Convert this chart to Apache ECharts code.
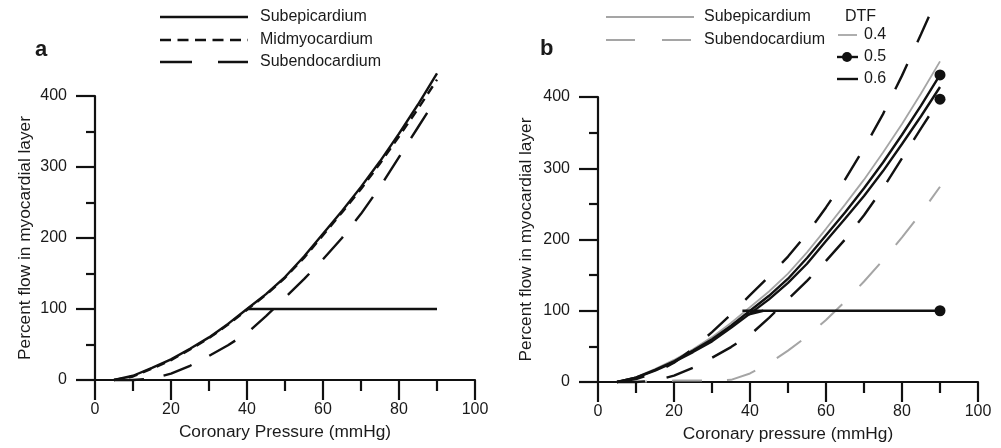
<!DOCTYPE html>
<html><head><meta charset="utf-8">
<script src="https://cdn.jsdelivr.net/npm/echarts@6/dist/echarts.min.js"></script>
<style>html,body{margin:0;padding:0;background:#fff}#c{width:1001px;height:448px}</style>
</head><body><div id="c"></div>
<script>
// ---- data ----
const pressure = [5,10,15,20,25,30,35,40,45,50,55,60,65,70,75,80,85,90];
// panel a
const aSubepi  = [0,6,17,29,44,60,79,100,121,145,174,206,238,272,308,347,388,432];
const aMidmyo  = [0,5,16,28,43,59,78,99,120,144,172,204,236,269,305,343,382,423];
const aSubendo = [0,0,2,9,20,34,49,66,90,116,142,170,200,234,272,314,356,398];
const aFlatX = [40,90];
const aFlatY = [100,100];
// panel b
const bEpi04  = [0,7,18,31,46,63,83,105,127,152,182,215,249,284,322,362,405,450];
const bEpi05  = [0,6,17,29,44,60,79,100,121,145,174,206,238,272,308,347,388,431];
const bEpi06  = [0,6,16,28,42,57,76,96,116,139,166,198,229,261,296,334,373,414];
const bEndo04 = [0,0,1,2,2,2,3,12,26,44,64,87,113,141,171,203,237,274];
const bEndo05 = [0,0,2,9,20,34,49,66,90,116,142,170,200,234,272,314,356,397];
const bEndo06 = [0,4,13,27,47,70,95,122,148,176,208,245,284,328,376,430,488,548];
const bFlatX = [38,90];
const bFlatY = [100,100];
const bWedgeX = [39,43.5];
const bWedgeY = [94,100];
const bDotX = [90,90,90];
const bDotY = [431,397,100];
const xTicks = {min:0,max:100,interval:20};
const yTicks = {min:0,max:400,interval:100};
const labels = {
  xA:'Coronary Pressure (mmHg)', xB:'Coronary pressure (mmHg)',
  y:'Percent flow in myocardial layer',
  legA:['Subepicardium','Midmyocardium','Subendocardium'],
  legB:['Subepicardium','Subendocardium'],
  dtf:['DTF','0.4','0.5','0.6']
};

// ---- chart ----
const FONT = 'Arial, "Liberation Sans", sans-serif';
const INK = '#111', TXT = '#1a1a1a', GRAY = '#a5a5a5';
const LW = 2.4;
const zip = (xs, ys) => xs.map((x,i)=>[x, ys[i]]);

function xAxis(idx, name){
  return {type:'value', gridIndex:idx, min:xTicks.min, max:xTicks.max, interval:xTicks.interval,
    axisLine:{show:true,onZero:false,lineStyle:{color:INK,width:2.2}},
    axisTick:{show:true,length:20,lineStyle:{color:INK,width:2.2}},
    minorTick:{show:true,splitNumber:2,length:11,lineStyle:{color:INK,width:2.2}},
    splitLine:{show:false}, minorSplitLine:{show:false},
    axisLabel:{margin:22,fontSize:16,color:TXT,fontFamily:FONT},
    name:name, nameLocation:'middle', nameGap:44,
    nameTextStyle:{fontSize:17.3,color:TXT,fontFamily:FONT}};
}
function yAxis(idx, gap){
  return {type:'value', gridIndex:idx, min:yTicks.min, max:yTicks.max, interval:yTicks.interval,
    axisLine:{show:true,onZero:false,lineStyle:{color:INK,width:2.2}},
    axisTick:{show:true,length:19,lineStyle:{color:INK,width:2.2}},
    minorTick:{show:true,splitNumber:2,length:9,lineStyle:{color:INK,width:2.2}},
    splitLine:{show:false}, minorSplitLine:{show:false},
    axisLabel:{margin:28,fontSize:16,color:TXT,fontFamily:FONT},
    name:labels.y, nameLocation:'middle', nameGap:gap,
    nameTextStyle:{fontSize:17.3,color:TXT,fontFamily:FONT}};
}
function line(name, g, data, color, width, dash){
  return {name:name, type:'line', xAxisIndex:g, yAxisIndex:g, data:data, symbol:'none',
    clip:false, silent:true, animation:false, z:3,
    lineStyle:{color:color,width:width,type:dash||'solid'}};
}

const series = [
  line('a-subepi',0,zip(pressure,aSubepi),INK,LW),
  line('a-mid',0,zip(pressure,aMidmyo),INK,LW,[9,6]),
  line('a-subendo',0,zip(pressure,aSubendo),INK,LW,[30,20]),
  line('a-flat',0,zip(aFlatX,aFlatY),INK,LW),
  line('b-epi04',1,zip(pressure,bEpi04),GRAY,1.8),
  line('b-epi05',1,zip(pressure,bEpi05),INK,LW),
  line('b-epi06',1,zip(pressure,bEpi06),INK,LW),
  line('b-endo04',1,zip(pressure,bEndo04),GRAY,2,[30,25]),
  line('b-endo05',1,zip(pressure,bEndo05),INK,LW,[28,22]),
  line('b-endo06',1,zip(pressure,bEndo06),INK,LW,[28,24]),
  line('b-flat',1,zip(bFlatX,bFlatY),INK,LW),
  line('b-wedge',1,zip(bWedgeX,bWedgeY),INK,LW),
  {name:'b-dots',type:'scatter',xAxisIndex:1,yAxisIndex:1,data:zip(bDotX,bDotY),
   symbol:'circle',symbolSize:11,itemStyle:{color:INK,opacity:1},clip:false,silent:true,animation:false,z:5}
];

const txt = (x,y,s,extra) => Object.assign({type:'text',x:x,y:y,silent:true,
  style:Object.assign({text:s,fill:TXT,font:'16px '+FONT,textVerticalAlign:'middle',verticalAlign:'middle'},extra||{})});
const seg = (x1,y1,x2,y2,stroke,w,dash) => ({type:'line',silent:true,
  shape:{x1:x1,y1:y1,x2:x2,y2:y2},style:{stroke:stroke,lineWidth:w,lineDash:dash||null}});

const graphic = [
  // panel labels
  txt(35,50,'a',{font:'bold 22px '+FONT}),
  txt(540,49,'b',{font:'bold 22px '+FONT}),
  // legend a
  seg(160,17,248,17,INK,LW),
  seg(160,40,248,40,INK,LW,[11,6.5]),
  seg(160,62,248,62,INK,LW,[32,26]),
  txt(260,17,labels.legA[0]), txt(260,40,labels.legA[1]), txt(260,62,labels.legA[2]),
  // legend b
  seg(606,17,694,17,GRAY,1.8),
  seg(606,40,694,40,GRAY,1.8,[29,27]),
  txt(704,17,labels.legB[0]), txt(704,40,labels.legB[1]),
  txt(845,17,labels.dtf[0]),
  seg(838,35,857,35,GRAY,1.8), txt(864,35,labels.dtf[1]),
  seg(837,57,858,57,INK,LW),
  {type:'circle',silent:true,shape:{cx:847,cy:57,r:5},style:{fill:INK}},
  txt(864,57,labels.dtf[2]),
  seg(837,79,858,79,INK,LW), txt(864,79,labels.dtf[3])
];

const chart = echarts.init(document.getElementById('c'), null, {renderer:'canvas'});
chart.setOption({
  backgroundColor:'#fff', animation:false,
  grid:[
    {left:95,right:526,top:96,bottom:68,containLabel:false,outerBoundsMode:'none'},
    {left:598,right:23,top:97,bottom:66,containLabel:false,outerBoundsMode:'none'}
  ],
  xAxis:[xAxis(0,labels.xA), xAxis(1,labels.xB)],
  yAxis:[yAxis(0,61), yAxis(1,63)],
  series:series,
  graphic:graphic
});
</script></body></html>
